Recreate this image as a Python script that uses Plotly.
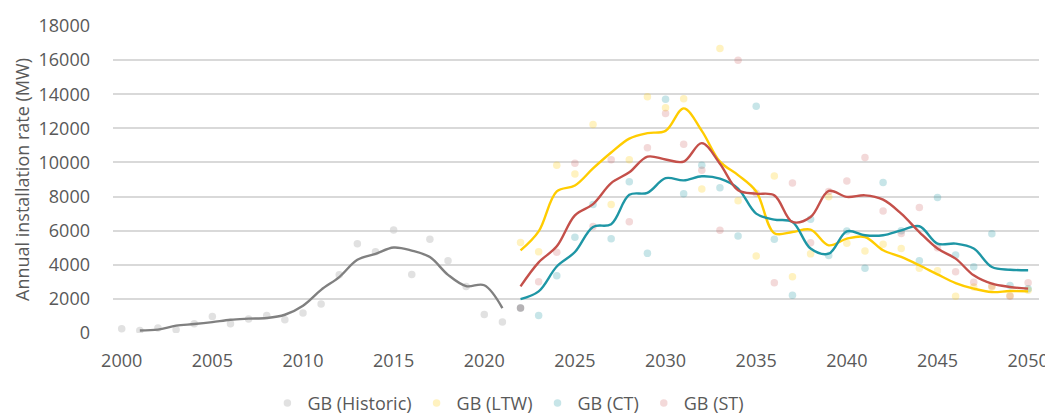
import plotly.graph_objects as go

# historic installations (dots) and smoothed trend
hist_years = list(range(2000, 2023))
hist_points = [250, 150, 290, 190, 540, 970, 540, 820, 1030, 780, 1170, 1700,
               3410, 5240, 4770, 6040, 3430, 5500, 4230, 2730, 1090, 640, 1460]
hist_trend_years = list(range(2001, 2022))
hist_trend = [150, 200, 430, 525, 640, 780, 840, 880, 1070, 1600, 2530, 3280,
              4290, 4640, 5010, 4830, 4450, 3410, 2750, 2800, 1460]

# scenario projections 2022-2050
proj_years = list(range(2022, 2051))
ltw_points = [5300, 4760, 9840, 9320, 12230, 7540, 10160, 13850, 13200, 13740,
              8450, 16680, 7760, 4510, 9200, 3300, 4640, 7990, 5260, 4810,
              5200, 4960, 3790, 3650, 2150, 2700, 2700, 2200, 2500]
ct_points = [1460, 1020, 3350, 5620, 7530, 5520, 8870, 4670, 13700, 8170,
             9830, 8520, 5680, 13290, 5500, 2220, 6670, 4540, 5980, 3790,
             8820, 6000, 4230, 7950, 4570, 3890, 5820, 2780, 2600]
st_points = [1460, 3000, 4740, 9960, 6250, 10160, 6530, 10860, 12870, 11070,
             9540, 6020, 15990, 8200, 2950, 8800, 5290, 8300, 8910, 10290,
             7150, 5840, 7360, 5000, 3590, 2980, 2750, 2150, 2950]
ltw_trend = [4840, 5960, 8300, 8650, 9650, 10580, 11400, 11720, 11850, 13170,
             11850, 10050, 9260, 8300, 5850, 5920, 6060, 5140, 5530, 5630,
             4850, 4460, 3970, 3440, 2930, 2600, 2400, 2460, 2440]
ct_trend = [1990, 2440, 3900, 4750, 6220, 6380, 8100, 8220, 9080, 8950,
            9190, 9050, 8470, 7000, 6650, 6510, 4950, 4650, 5960, 5730,
            5730, 6020, 6260, 5240, 5240, 4950, 3870, 3710, 3680]
st_trend = [2730, 4140, 5080, 6900, 7560, 8790, 9420, 10340, 10170, 10050,
            11130, 9930, 8370, 8170, 8070, 6510, 6800, 8330, 7980, 8070,
            7820, 7000, 5920, 4950, 4360, 3380, 2890, 2700, 2600]

y_ticks = list(range(0, 18001, 2000))
x_ticks = list(range(2000, 2051, 5))

text_col = "#595959"
font_name = "Open Sans, Segoe UI, DejaVu Sans, sans-serif"

series = [
    ("GB (Historic)", hist_years, hist_points, hist_trend_years, hist_trend,
     "rgba(200,200,200,0.55)", "#808080"),
    ("GB (LTW)", proj_years, ltw_points, proj_years, ltw_trend,
     "rgba(255,210,30,0.28)", "#FFCC00"),
    ("GB (CT)", proj_years, ct_points, proj_years, ct_trend,
     "rgba(30,150,165,0.25)", "#1E96A5"),
    ("GB (ST)", proj_years, st_points, proj_years, st_trend,
     "rgba(200,80,80,0.22)", "#C4504A"),
]

fig = go.Figure()

# faint yearly dots first (these carry the legend)
for name, xs, ys, _, _, dot_col, _ in series:
    fig.add_trace(go.Scatter(
        x=xs, y=ys, mode="markers", name=name,
        marker=dict(size=7.5, color=dot_col, line=dict(width=0)),
        hoverinfo="x+y+name"))

# smoothed trend lines on top
for name, _, _, tx, ty, _, line_col in series:
    fig.add_trace(go.Scatter(
        x=tx, y=ty, mode="lines", name=name + " trend", showlegend=False,
        line=dict(color=line_col, width=2.4, shape="spline", smoothing=1.0)))

# page body has an 8px default margin, so the figure is 8px smaller
fig.update_layout(
    width=1045, height=410,
    margin=dict(l=105, r=14, t=18, b=85, autoexpand=False),
    paper_bgcolor="white", plot_bgcolor="white",
    font=dict(family=font_name, size=18, color=text_col),
    legend=dict(orientation="h", x=0.427, xanchor="center",
                yref="container", y=0.036, yanchor="middle",
                font=dict(size=18, color=text_col),
                itemclick=False, traceorder="normal", tracegroupgap=0),
    showlegend=True,
)
fig.update_xaxes(range=[1999.52, 2050.6], tickvals=x_ticks,
                 ticktext=[str(v) for v in x_ticks], showgrid=False,
                 zeroline=False, showline=False, ticks="", automargin=False,
                 ticklabelstandoff=15)
fig.update_yaxes(range=[0, 18000], tickvals=y_ticks,
                 ticktext=[str(v) for v in y_ticks], showgrid=True,
                 gridcolor="#d9d9d9", gridwidth=1.5, zeroline=False,
                 showline=False, ticks="", ticklabelstandoff=22,
                 automargin=False,
                 title=dict(text="Annual installation rate (MW)",
                            font=dict(size=18, color=text_col), standoff=4))

fig.write_html("out.html")
